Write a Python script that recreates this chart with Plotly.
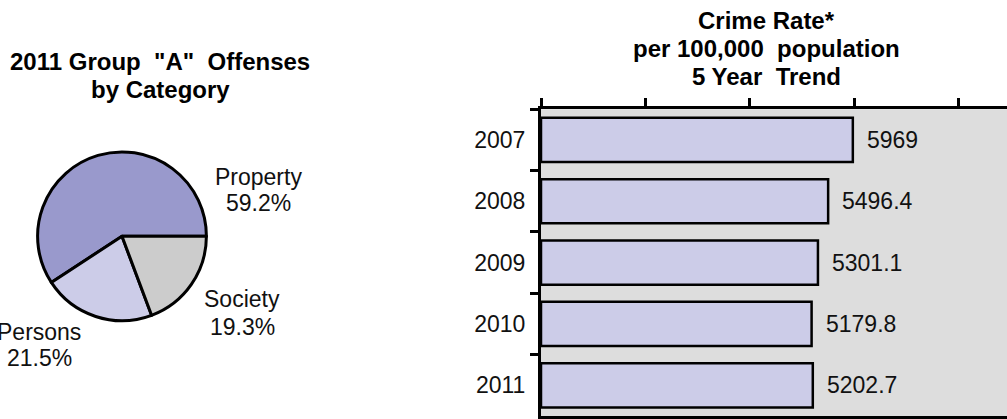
import plotly.graph_objects as go

# ---- data ----
pie_labels = ["Property", "Persons", "Society"]
pie_values = [59.2, 21.5, 19.3]
pie_colors = ["#9999CC", "#CCCCE8", "#CCCCCC"]

years = ["2007", "2008", "2009", "2010", "2011"]
rates = [5969, 5496.4, 5301.1, 5179.8, 5202.7]

pie_title_lines = ['2011 Group  "A"  Offenses', "by Category"]
bar_title_lines = ["Crime Rate*", "per 100,000  population", "5 Year  Trend"]

W, H = 1007, 419
FONT = "Liberation Sans, Arial, sans-serif"

fig = go.Figure()

# pie: center (122,237), radius 85 px
cx, cy, r = 122, 238, 85
first_share = pie_values[0] / sum(pie_values)
fig.add_trace(go.Pie(
    labels=pie_labels, values=pie_values, sort=False,
    direction="counterclockwise", rotation=90 - first_share * 360,
    marker=dict(colors=pie_colors, line=dict(color="black", width=3)),
    textinfo="none", hoverinfo="label+percent", showlegend=False,
    domain=dict(x=[(cx - r) / W, (cx + r) / W], y=[1 - (cy + r) / H, 1 - (cy - r) / H]),
))

fig.add_trace(go.Bar(
    x=rates, y=years, orientation="h",
    marker=dict(color="#CCCCE8", line=dict(color="black", width=2.5)),
    width=0.72, showlegend=False, xaxis="x", yaxis="y",
))

annotations = []


def add_text(text, px, py, size, bold=False, xanchor="center"):
    annotations.append(dict(
        text=text, x=px / W, y=1 - py / H, xref="paper", yref="paper",
        xanchor=xanchor, yanchor="middle", showarrow=False,
        font=dict(family=FONT, size=size, color="black" if bold else "#111111",
                  weight="bold" if bold else "normal"),
    ))


# pie label annotations (name line, percent line)
pie_label_pos = {"Property": (258, 178, 204), "Persons": (39, 334, 361), "Society": (242, 301, 329)}
for name, v in zip(pie_labels, pie_values):
    px, py1, py2 = pie_label_pos[name]
    add_text(name, px, py1, 23)
    add_text(f"{v}%", px, py2, 23)

# bar value labels
for i, xv in enumerate(rates):
    annotations.append(dict(
        text=f"{xv:g}", x=xv, y=i, xref="x", yref="y", xanchor="left", yanchor="middle",
        xshift=12, showarrow=False, font=dict(family=FONT, size=23, color="#111111"),
    ))

# titles
for line, py in zip(pie_title_lines, [62, 90]):
    add_text(line, 160, py, 24, bold=True)
for line, py in zip(bar_title_lines, [21, 49, 77]):
    add_text(line, 766, py, 24, bold=True)

fig.update_layout(
    width=W, height=H, margin=dict(l=0, r=0, t=0, b=0),
    paper_bgcolor="white", plot_bgcolor="#DDDDDD",
    annotations=annotations,
    xaxis=dict(
        domain=[541 / W, 1.0], range=[0, 8920], side="top",
        tick0=0, dtick=2000, ticks="outside", ticklen=8, tickwidth=2.5, tickcolor="black",
        showticklabels=False, showgrid=False, zeroline=False,
        showline=True, linewidth=3, linecolor="black", mirror=True,
    ),
    yaxis=dict(
        domain=[0, 1 - 110 / H], range=[len(years) - 0.5, -0.5], type="category",
        ticks="outside", tickson="boundaries", ticklen=8, tickwidth=3, tickcolor="black",
        showgrid=False, zeroline=False, showline=True, linewidth=3, linecolor="black",
        ticklabelstandoff=8,
        tickfont=dict(family=FONT, size=23, color="#111111"),
    ),
)

fig.write_html("out.html", config={"displayModeBar": False},
               post_script="document.body.style.margin='0';")
